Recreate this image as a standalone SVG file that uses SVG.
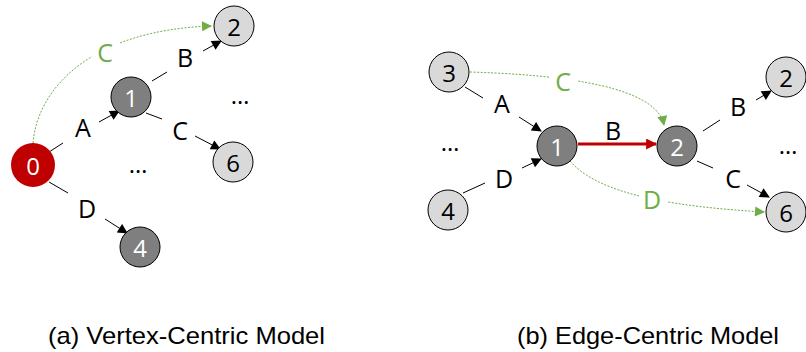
<svg xmlns="http://www.w3.org/2000/svg" width="806" height="352" viewBox="0 0 806 352">
  <defs>
    <marker id="arrowBlackLg" viewBox="0 0 10 10" refX="9" refY="5" markerWidth="12" markerHeight="10" orient="auto" markerUnits="userSpaceOnUse">
      <path d="M0,0 L10,5 L0,10 z" fill="#000"/>
    </marker>
    <marker id="arrowRed" viewBox="0 0 10 10" refX="9" refY="5" markerWidth="12" markerHeight="11" orient="auto" markerUnits="userSpaceOnUse">
      <path d="M0,0 L10,5 L0,10 z" fill="#C00000"/>
    </marker>
    <marker id="arrowGreen" viewBox="0 0 10 10" refX="9" refY="5" markerWidth="11" markerHeight="10" orient="auto" markerUnits="userSpaceOnUse">
      <path d="M0,0 L10,5 L0,10 z" fill="#70AD47"/>
    </marker>
  </defs>
  <style>
    .edge { stroke: #000; stroke-width: 1; fill: none; }
    .head { marker-end: url(#arrowBlackLg); }
    .hop { stroke: #70AD47; stroke-width: 1; stroke-dasharray: 2 1.5; fill: none; marker-end: url(#arrowGreen); }
    .root circle { fill: #C00000; }
    .active circle { fill: #7F7F7F; stroke: #000; stroke-width: 1; }
    .idle circle { fill: #D9D9D9; stroke: #000; stroke-width: 1; }
    .num { font-family: "Open Sans", "Noto Sans", sans-serif; font-size: 24px; text-anchor: middle; dominant-baseline: central; }
    .root .num, .active .num { fill: #fff; }
    .idle .num { fill: #000; }
    .lbl { font-family: "Open Sans", "Noto Sans", sans-serif; font-size: 25px; text-anchor: middle; dominant-baseline: central; fill: #000; }
    .glbl { font-family: "Open Sans", "Noto Sans", sans-serif; font-size: 25px; text-anchor: middle; dominant-baseline: central; fill: #70AD47; }
    .dots { font-family: "Open Sans", "Noto Sans", sans-serif; font-size: 24px; text-anchor: middle; fill: #000; }
    .cap { font-family: "Liberation Sans", Arial, sans-serif; font-size: 24px; fill: #000; }
    .knock { fill: #fff; }
  </style>

  <!-- connectors -->
  <g id="connectors">
    <!-- (a) vertex-centric -->
    <path class="hop" d="M33,143 C38,85 95,30 211,26"/>
    <rect class="knock" x="92" y="37" width="27" height="30"/>
    <line class="edge" x1="49" y1="152" x2="63" y2="143"/>
    <line class="edge head" x1="99" y1="122" x2="119" y2="111"/>
    <line class="edge" x1="152" y1="81" x2="167" y2="72"/>
    <line class="edge head" x1="203" y1="51" x2="221" y2="41"/>
    <line class="edge" x1="146" y1="113" x2="162" y2="119"/>
    <line class="edge head" x1="195" y1="136" x2="220" y2="149"/>
    <line class="edge" x1="49" y1="182" x2="68" y2="193"/>
    <line class="edge head" x1="105" y1="219" x2="127" y2="233"/>

    <!-- (b) edge-centric -->
    <path class="hop" d="M470,72 C600,76 658,95 664,125"/>
    <rect class="knock" x="549" y="64" width="28" height="32"/>
    <path class="hop" d="M570,161 C600,196 680,207 764,212"/>
    <rect class="knock" x="639" y="183" width="28" height="34"/>
    <line class="edge" x1="465" y1="87" x2="483" y2="98"/>
    <line class="edge head" x1="519" y1="117" x2="541" y2="131"/>
    <line class="edge" x1="463" y1="193" x2="485" y2="183"/>
    <line class="edge head" x1="522" y1="168" x2="541" y2="159"/>
    <line x1="578" y1="144" x2="656" y2="144" stroke="#C00000" stroke-width="3" marker-end="url(#arrowRed)"/>
    <line class="edge" x1="703" y1="131" x2="720" y2="120"/>
    <line class="edge head" x1="756" y1="100" x2="771" y2="91"/>
    <line class="edge" x1="697" y1="161" x2="713" y2="168"/>
    <line class="edge head" x1="747" y1="185" x2="769" y2="197"/>
  </g>

  <!-- edge labels -->
  <g id="edge-labels">
    <text class="glbl" x="105" y="52">C</text>
    <text class="lbl" x="83" y="127">A</text>
    <text class="lbl" x="185" y="57">B</text>
    <text class="lbl" x="180" y="130">C</text>
    <text class="lbl" x="87" y="208">D</text>

    <text class="glbl" x="563" y="81">C</text>
    <text class="glbl" x="652" y="199">D</text>
    <text class="lbl" x="502" y="103">A</text>
    <text class="lbl" x="504" y="178">D</text>
    <text class="lbl" x="613" y="130">B</text>
    <text class="lbl" x="738" y="106">B</text>
    <text class="lbl" x="733" y="178">C</text>
  </g>

  <!-- (a) vertex-centric nodes -->
  <g id="a-v0" class="root"><circle cx="33" cy="165" r="22"/><text class="num" x="33" y="165">0</text></g>
  <g id="a-v1" class="active"><circle cx="131" cy="97" r="20"/><text class="num" x="131" y="97">1</text></g>
  <g id="a-v2" class="idle"><circle cx="234" cy="26" r="20"/><text class="num" x="234" y="26">2</text></g>
  <g id="a-v6" class="idle"><circle cx="233" cy="162" r="20"/><text class="num" x="233" y="162">6</text></g>
  <g id="a-v4" class="active"><circle cx="140" cy="247" r="20"/><text class="num" x="140" y="247">4</text></g>
  <g id="a-more">
    <text class="dots" x="138" y="173">…</text>
    <text class="dots" x="240" y="104">…</text>
  </g>

  <!-- (b) edge-centric nodes -->
  <g id="b-v3" class="idle"><circle cx="449" cy="72" r="20"/><text class="num" x="449" y="72">3</text></g>
  <g id="b-v4" class="idle"><circle cx="448" cy="210" r="20"/><text class="num" x="448" y="210">4</text></g>
  <g id="b-v1" class="active"><circle cx="557" cy="146" r="20"/><text class="num" x="557" y="146">1</text></g>
  <g id="b-v2" class="active"><circle cx="677" cy="146" r="20"/><text class="num" x="677" y="146">2</text></g>
  <g id="b-v2n" class="idle"><circle cx="786" cy="77" r="20"/><text class="num" x="786" y="77">2</text></g>
  <g id="b-v6" class="idle"><circle cx="786" cy="212" r="20"/><text class="num" x="786" y="212">6</text></g>
  <g id="b-more">
    <text class="dots" x="450" y="151">…</text>
    <text class="dots" x="788" y="154">…</text>
  </g>

  <!-- captions -->
  <g id="captions">
    <text class="cap" x="48" y="344" textLength="277" lengthAdjust="spacingAndGlyphs">(a) Vertex-Centric Model</text>
    <text class="cap" x="517" y="344" textLength="262" lengthAdjust="spacingAndGlyphs">(b) Edge-Centric Model</text>
  </g>
</svg>
